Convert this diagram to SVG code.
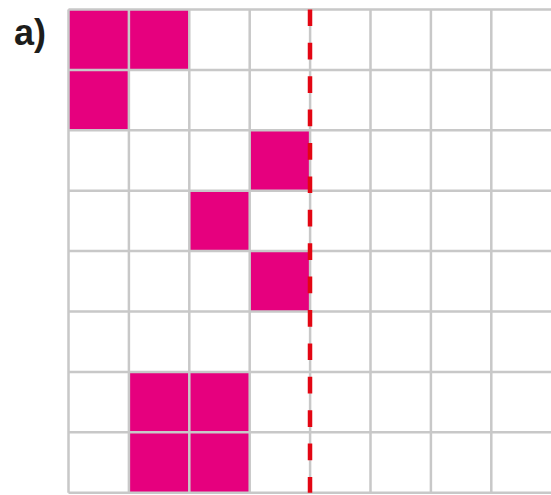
<svg xmlns="http://www.w3.org/2000/svg" width="551" height="495" viewBox="0 0 551 495">
<style>
.cell{fill:#e6007e}
.grid{stroke:#c8c8c8;stroke-width:2.5;fill:none}
.axis{stroke:#e30613;stroke-width:4.5;stroke-dasharray:16.7 16.7;fill:none}
.lbl{font-family:"Liberation Sans",Arial,sans-serif;font-weight:bold;font-size:36px;fill:#1d1d1b}
</style>
<rect width="551" height="495" fill="#ffffff"/>
<g id="label"><text class="lbl" x="14" y="45">a)</text></g>
<g id="cells">
<rect class="cell" x="68.5" y="9.5" width="60.4" height="60.4"/>
<rect class="cell" x="128.9" y="9.5" width="60.4" height="60.4"/>
<rect class="cell" x="68.5" y="69.9" width="60.4" height="60.4"/>
<rect class="cell" x="249.7" y="130.3" width="60.4" height="60.4"/>
<rect class="cell" x="189.3" y="190.7" width="60.4" height="60.4"/>
<rect class="cell" x="249.7" y="251.1" width="60.4" height="60.4"/>
<rect class="cell" x="128.9" y="371.9" width="60.4" height="60.4"/>
<rect class="cell" x="189.3" y="371.9" width="60.4" height="60.4"/>
<rect class="cell" x="128.9" y="432.3" width="60.4" height="60.4"/>
<rect class="cell" x="189.3" y="432.3" width="60.4" height="60.4"/>
</g>
<g id="grid" class="grid">
<path d="M68.5 9.5V492.7M128.9 9.5V492.7M189.3 9.5V492.7M249.7 9.5V492.7M310.1 9.5V492.7M370.5 9.5V492.7M430.9 9.5V492.7M491.3 9.5V492.7"/>
<path d="M68.5 9.5H552M68.5 69.9H552M68.5 130.3H552M68.5 190.7H552M68.5 251.1H552M68.5 311.5H552M68.5 371.9H552M68.5 432.3H552M68.5 492.7H552"/>
</g>
<g id="connectors">
<line class="axis" x1="310" y1="9.4" x2="310" y2="492.7"/>
</g>
</svg>
